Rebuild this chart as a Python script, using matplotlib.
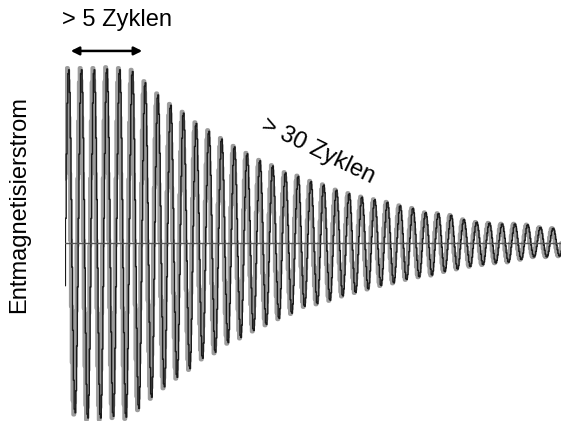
import numpy as np
import matplotlib
matplotlib.use("Agg")
import matplotlib.pyplot as plt

plt.rcParams['font.family'] = ['Liberation Sans', 'DejaVu Sans']

# peak values per cycle (relative current, first cycle = 100)
pos_peaks = [100, 100, 100, 100.5, 100, 99, 92.5, 85.5, 79.5, 75, 69, 64.5, 60,
             55.5, 51.5, 47.5, 44.5, 40.5, 38.5, 35.5, 33.5, 30.5, 28.5, 26.5,
             25, 23.5, 21.5, 20, 17.5, 17, 16, 13.5, 12, 11.5, 11, 11, 10.5, 9, 8.5]
neg_peaks = [98, 101, 101, 100, 100.5, 95.5, 89, 83, 77.5, 72.5, 66.5, 63, 57.5,
             54.5, 50.5, 47, 43.5, 40.5, 36.5, 35, 33, 30.5, 28.5, 26.5, 24.5,
             23, 21, 19.5, 18.5, 16.5, 15, 13.5, 12.5, 11.5, 11, 9.5, 8, 8, 7.5]
n_cycles = len(pos_peaks)

samples = 16


def waveform(shift):
    t_all, y_all = [], []
    for k in range(n_cycles):
        t = k + np.arange(samples) / samples
        s = np.sin(2 * np.pi * (t + shift))
        y = np.where(s > 0, s * pos_peaks[k], s * neg_peaks[k])
        t_all.append(t)
        y_all.append(y)
    return np.concatenate(t_all), np.concatenate(y_all)


fig = plt.figure(figsize=(5.61, 4.21), dpi=100)
ax = fig.add_axes([65 / 561, 0, 496 / 561, 1])

tg, yg = waveform(0.06)
tb, yb = waveform(-0.04)
ax.plot(tg, yg, color='#9c9c9c', lw=3.0, drawstyle='steps-mid')
ax.plot(tb, yb, color='#1a1a1a', lw=1.0, drawstyle='steps-mid')
ax.axhline(0, color='#555555', lw=1.0)

ax.set_xlim(0, 496 / 12.75)
ax.set_ylim(-101.7, 138.9)
ax.axis('off')

fig.text(62 / 561, 0.952, '> 5 Zyklen', fontsize=17, ha='left', va='center')
fig.text(0.567, 0.64, '> 30 Zyklen', fontsize=17, ha='center', va='center',
         rotation=-26)
fig.text(0.034, 0.513, 'Entmagnetisierstrom', fontsize=17, ha='center',
         va='center', rotation=90)

fig.patches.append(matplotlib.patches.FancyArrowPatch(
    (68 / 561, 0.879), (145 / 561, 0.879), transform=fig.transFigure,
    arrowstyle='<|-|>', mutation_scale=12, color='black', lw=1.8))

fig.savefig('out.png', dpi=100, facecolor='white')
